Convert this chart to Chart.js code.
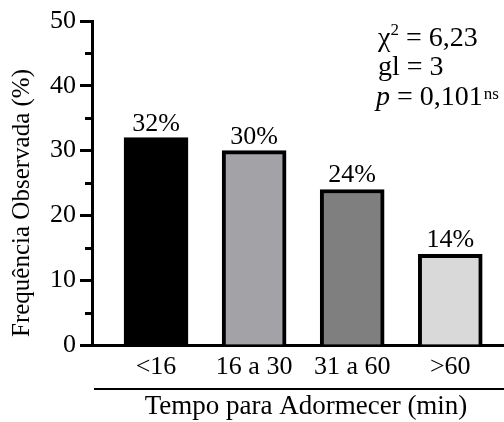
<!DOCTYPE html>
<html>
<head>
<meta charset="utf-8">
<script src="https://cdn.jsdelivr.net/npm/chart.js@4/dist/chart.umd.min.js"></script>
<style>
  html, body { margin: 0; padding: 0; background: #fff; overflow: hidden; }
  canvas { display: block; }
</style>
</head>
<body>
<canvas id="myChart" width="504" height="422" style="width:504px;height:422px"></canvas>
<script>
// sleep onset categories and observed frequency (%)
const categories = ['<16', '16 a 30', '31 a 60', '>60'];
const frequencies = [32, 30, 24, 14];
const barColors = ['#000000', '#a3a2a7', '#7f7f7f', '#d9d9d9'];
const yTicks = [0, 10, 20, 30, 40, 50];
const yMinorTicks = [5, 15, 25, 35, 45];
const xTitle = 'Tempo para Adormecer (min)';
const yTitle = 'Frequência Observada (%)';

const canvas = document.getElementById('myChart');
const W = canvas.width;
const ctx = canvas.getContext('2d');

const serif = "'Liberation Serif', 'Times New Roman', serif";
Chart.defaults.font.family = serif;
Chart.defaults.color = '#000';

const extras = {
    id: 'extras',
    afterDraw(chart) {
        const c = chart.ctx;
        const y = chart.scales.y;
        const left = chart.chartArea.left;
        c.save();
        c.strokeStyle = '#000';
        c.fillStyle = '#000';

        // minor ticks on the y axis
        c.lineWidth = 3;
        yMinorTicks.forEach(v => {
            const yy = Math.round(y.getPixelForValue(v)) + 0.5;
            c.beginPath();
            c.moveTo(left - 7, yy);
            c.lineTo(left, yy);
            c.stroke();
        });

        // percentages over the bars
        c.font = '26px ' + serif;
        c.textAlign = 'center';
        c.textBaseline = 'alphabetic';
        chart.getDatasetMeta(0).data.forEach((bar, i) => {
            c.fillText(frequencies[i] + '%', bar.x, bar.y - 7);
        });

        // rule above the x title
        c.lineWidth = 2;
        c.beginPath();
        c.moveTo(94, 389);
        c.lineTo(W, 389);
        c.stroke();

        // axis titles
        c.font = '27px ' + serif;
        c.fillText(xTitle, 306, 414);
        c.save();
        c.translate(22, 203);
        c.rotate(-Math.PI / 2);
        c.textBaseline = 'middle';
        c.font = '25px ' + serif;
        c.fillText(yTitle, 0, 0);
        c.restore();

        // chi-square summary
        c.textAlign = 'left';
        const x0 = 378;
        c.font = '28px ' + serif;
        c.fillText('\u03C7', x0, 46);
        let w = c.measureText('\u03C7').width;
        c.font = '17px ' + serif;
        c.fillText('2', x0 + w, 35);
        w += c.measureText('2').width;
        c.font = '28px ' + serif;
        c.fillText(' = 6,23', x0 + w, 46);
        c.fillText('gl = 3', x0, 75);
        c.font = 'italic 28px ' + serif;
        c.fillText('p', x0 - 2, 105);
        w = c.measureText('p').width;
        c.font = '28px ' + serif;
        c.fillText(' = 0,101', x0 - 2 + w, 105);
        w += c.measureText(' = 0,101').width;
        c.font = '17px ' + serif;
        c.fillText('ns', x0 - 2 + w + 1, 99);
        c.restore();
    }
};

const chart = new Chart(ctx, {
    type: 'bar',
    data: {
        datasets: [{
            data: frequencies.map((v, i) => ({ x: i, y: v })),
            backgroundColor: barColors,
            borderColor: '#000',
            borderWidth: 4,
            barThickness: 64
        }]
    },
    options: {
        responsive: false,
        animation: false,
        devicePixelRatio: 1,
        layout: { padding: { top: 21, right: 0, left: 0, bottom: 0 } },
        plugins: {
            legend: { display: false },
            tooltip: { enabled: false }
        },
        scales: {
            x: {
                type: 'linear',
                min: -0.653,
                max: 3.548,
                offset: false,
                grid: { display: true, drawOnChartArea: false, drawTicks: false },
                border: { display: true, color: '#000', width: 3 },
                afterBuildTicks: s => { s.ticks = categories.map((_, i) => ({ value: i })); },
                afterFit: s => { s.height = 422 - 345; },
                ticks: {
                    autoSkip: false,
                    maxRotation: 0,
                    padding: 7,
                    font: { size: 26 },
                    callback: v => categories[v]
                }
            },
            y: {
                min: 0,
                max: 50,
                afterBuildTicks: s => { s.ticks = yTicks.map(v => ({ value: v })); },
                afterFit: s => { s.width = 92; },
                grid: { display: true, drawOnChartArea: false, drawTicks: true, tickLength: 12, tickWidth: 3, tickColor: '#000' },
                border: { display: true, color: '#000', width: 3 },
                ticks: { padding: 4, font: { size: 26 } }
            }
        }
    },
    plugins: [extras]
});
</script>
</body>
</html>
